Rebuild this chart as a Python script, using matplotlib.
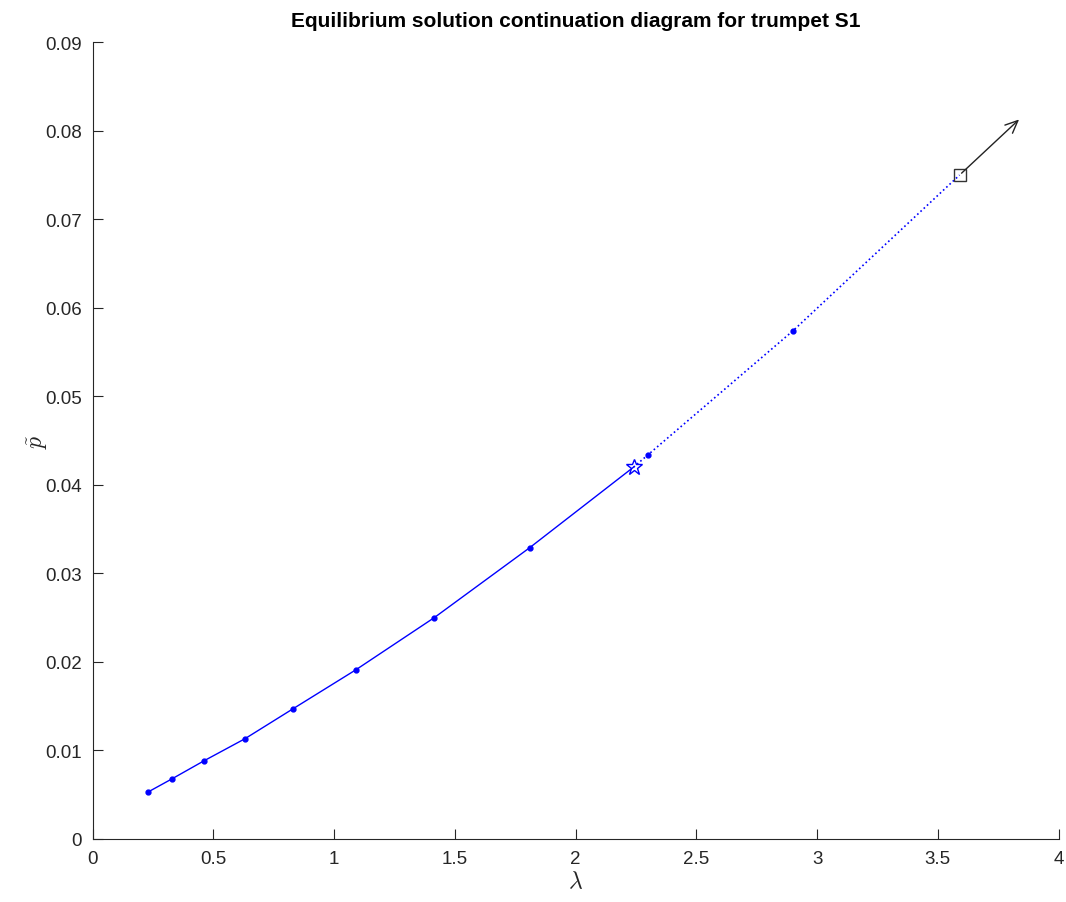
import numpy as np
import matplotlib
matplotlib.use("Agg")
import matplotlib.pyplot as plt

plt.rcParams['font.family'] = ['Liberation Sans', 'DejaVu Sans']
plt.rcParams['mathtext.fontset'] = 'cm'

# stable branch (solid) up to the star
lam_stable = [0.23, 0.33, 0.46, 0.63, 0.83, 1.09, 1.415, 1.81, 2.24]
p_stable = [0.0053, 0.0068, 0.0088, 0.0113, 0.0147, 0.0191, 0.0250, 0.0329, 0.0420]
# unstable branch (dotted) from star to the square
lam_unstable = [2.24, 2.30, 2.90, 3.59]
p_unstable = [0.0420, 0.0434, 0.0574, 0.0750]
# arrow direction end
arrow_end = (3.845, 0.0815)

fig = plt.figure(figsize=(10.66, 9.03), dpi=100)
ax = fig.add_axes([0.087, 0.07, 0.906, 0.882])

blue = '#0000ff'
ax.plot(lam_stable, p_stable, '-', color=blue, linewidth=1.0)
ax.plot(lam_stable[:-1], p_stable[:-1], '.', color=blue, markersize=7)
ax.plot(lam_unstable, p_unstable, ':', color=blue, linewidth=1.2)
ax.plot(lam_unstable[1:-1], p_unstable[1:-1], '.', color=blue, markersize=7)
ax.plot(lam_stable[-1], p_stable[-1], '*', markerfacecolor='none',
        markeredgecolor=blue, markersize=12, markeredgewidth=1.0)
ax.plot(lam_unstable[-1], p_unstable[-1], 's', markerfacecolor='none',
        markeredgecolor='#333333', markersize=8, markeredgewidth=1.0)
ax.annotate('', xy=arrow_end, xytext=(lam_unstable[-1], p_unstable[-1]),
            arrowprops=dict(arrowstyle='->,head_length=0.9,head_width=0.4',
                            color='#222222', lw=1.0))

ax.set_xlim(0, 4)
ax.set_ylim(0, 0.09)
ax.set_xticks(np.arange(0, 4.01, 0.5))
ax.set_xticklabels(['0', '0.5', '1', '1.5', '2', '2.5', '3', '3.5', '4'])
ax.set_yticks(np.arange(0, 0.0901, 0.01))
ax.set_yticklabels(['0'] + ['%.2f' % v for v in np.arange(0.01, 0.0901, 0.01)])

for s in ['top', 'right']:
    ax.spines[s].set_visible(False)
for s in ['left', 'bottom']:
    ax.spines[s].set_color('#262626')
    ax.spines[s].set_linewidth(0.8)
ax.tick_params(direction='in', length=7, width=0.8, colors='#262626',
               labelsize=13.5, pad=8)

ax.set_xlabel(r'$\lambda$', fontsize=17, color='#262626', labelpad=2)
ax.set_ylabel(r'$\tilde{p}$', fontsize=17, color='#262626', labelpad=-4)
ax.set_title('Equilibrium solution continuation diagram for trumpet S1',
             fontsize=15, fontweight='bold', pad=12)

fig.savefig('out.png', dpi=100)
